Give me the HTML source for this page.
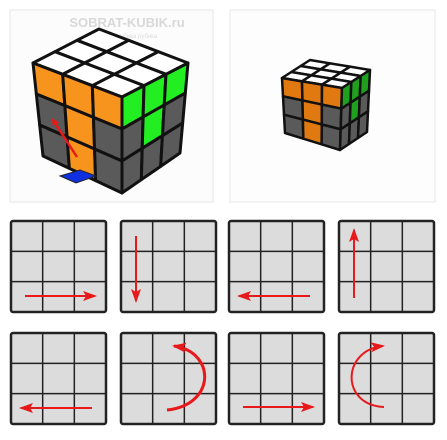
<!DOCTYPE html>
<html><head><meta charset="utf-8"><style>
html,body{margin:0;padding:0;background:#fff;width:447px;height:440px;overflow:hidden;font-family:"Liberation Sans",sans-serif}
</style></head><body>
<svg id="s" width="447" height="440" viewBox="0 0 447 440" xmlns="http://www.w3.org/2000/svg">
<rect x="10" y="10" width="203" height="192" fill="#fcfcfc" stroke="#e6e6e6"/>
<rect x="230" y="10" width="205" height="192" fill="#fdfdfd" stroke="#e6e6e6"/>
<text x="127" y="27" font-size="13" font-weight="bold" fill="#d8d8d8" text-anchor="middle">SOBRAT-KUBIK.ru</text>
<text x="127" y="38" font-size="6" fill="#dcdcdc" text-anchor="middle">сборка кубика рубика</text>
<g id="g"></g>
</svg>
<script>
const NS='http://www.w3.org/2000/svg';
const g=document.getElementById('g');
const C={o:'#f7941d',g:'#22ee22',k:'#5a5a5a',w:'#ffffff',b:'#1030e0',G:'#1fa01f',O:'#e07a10'};
function lerp(a,b,t){return [a[0]+(b[0]-a[0])*t,a[1]+(b[1]-a[1])*t];}
function pt(P,u,v){return lerp(lerp(P[0],P[1],u),lerp(P[2],P[3],u),v);}
function face(P,cols,sw,name){
 for(let r=0;r<3;r++)for(let c=0;c<3;c++){
  const q=[pt(P,c/3,r/3),pt(P,(c+1)/3,r/3),pt(P,(c+1)/3,(r+1)/3),pt(P,c/3,(r+1)/3)];
  const p=document.createElementNS(NS,'polygon');
  p.setAttribute('points',q.map(a=>a.join(',')).join(' '));
  p.setAttribute('fill',C[cols[r][c]]);p.setAttribute('stroke','#111');p.setAttribute('stroke-width',sw);p.setAttribute('stroke-linejoin','round');
  
  
  g.appendChild(p);
 }
}
face([[99,29],[188,63],[33,63],[122,97]],[['w','w','w'],['w','w','w'],['w','w','w']],3,'big-top-sticker');
face([[33,63],[122,97],[43,156],[122,193]],[['o','o','o'],['k','o','k'],['k','o','k']],3,'big-front-sticker');
face([[122,97],[188,63],[122,193],[180,153]],[['g','g','g'],['k','g','k'],['k','k','k']],3,'big-right-sticker');
face([[310,60],[370,70],[282,78],[342,88]],[['w','w','w'],['w','w','w'],['w','w','w']],2.5,'small-top-sticker');
face([[282,78],[342,88],[285,133],[340,150]],[['O','O','O'],['k','O','k'],['k','O','k']],2.5,'small-front-sticker');
face([[342,88],[370,70],[340,150],[367,132]],[['G','G','G'],['k','G','k'],['k','k','k']],2.5,'small-right-sticker');
</script>
<svg width="447" height="440" style="position:absolute;left:0;top:0" xmlns="http://www.w3.org/2000/svg">
<defs><marker id="ah" markerWidth="8" markerHeight="8" refX="6" refY="4" orient="auto" markerUnits="userSpaceOnUse"><path d="M0,0 L8,4 L0,8 L2,4z" fill="#e8191b"/></marker>
<marker id="ah2" markerWidth="14" markerHeight="10" refX="12" refY="5" orient="auto" markerUnits="userSpaceOnUse"><path d="M0,0 L14,5 L0,10 L3,5z" fill="#e8191b"/></marker></defs>
<polygon points="60,176 80,170 96,176 76,183" fill="#1030e0" stroke="#222"/>
<line x1="77" y1="157" x2="53" y2="120" stroke="#e8191b" stroke-width="2.5" marker-end="url(#ah)"/>
<g id="tiles"></g>
</svg>
<script>
const T=document.getElementById('tiles');
const xs=[11,121,229,339], ys=[221,333], W=95, H=91;
const arrows=[
 'M25,296 L95,296','M136,236 L136,301','M310,296 L239,296','M354,298 L354,230',
 'M92,408 L21,408','M167,410 C216,405 216,352 174,346','M243,407 L313,407','M384,407 C340,405 342,350 383,346'];
let k=0;
for(let r=0;r<2;r++)for(let c=0;c<4;c++){
 const x=xs[c],y=ys[r];
 const rc=document.createElementNS('http://www.w3.org/2000/svg','rect');
 rc.setAttribute('x',x);rc.setAttribute('y',y);rc.setAttribute('width',W);rc.setAttribute('height',H);rc.setAttribute('rx',2);
 rc.setAttribute('fill','#dcdcdc');rc.setAttribute('stroke','#222');rc.setAttribute('stroke-width',2.5);
 
 
 T.appendChild(rc);
 for(let i=1;i<3;i++){
  const a=document.createElementNS('http://www.w3.org/2000/svg','path');
  a.setAttribute('d',`M${x+W*i/3},${y} V${y+H} M${x},${y+H*i/3} H${x+W}`);
  a.setAttribute('stroke','#222');a.setAttribute('stroke-width',1.5);
  
  
  T.appendChild(a);
 }
 const p=document.createElementNS('http://www.w3.org/2000/svg','path');
 p.setAttribute('d',arrows[k]);p.setAttribute('fill','none');p.setAttribute('stroke','#e8191b');p.setAttribute('stroke-width',k===5?3:2);
 p.setAttribute('marker-end','url(#ah2)');
 
 
 T.appendChild(p);
 k++;
}
</script>
</body></html>
